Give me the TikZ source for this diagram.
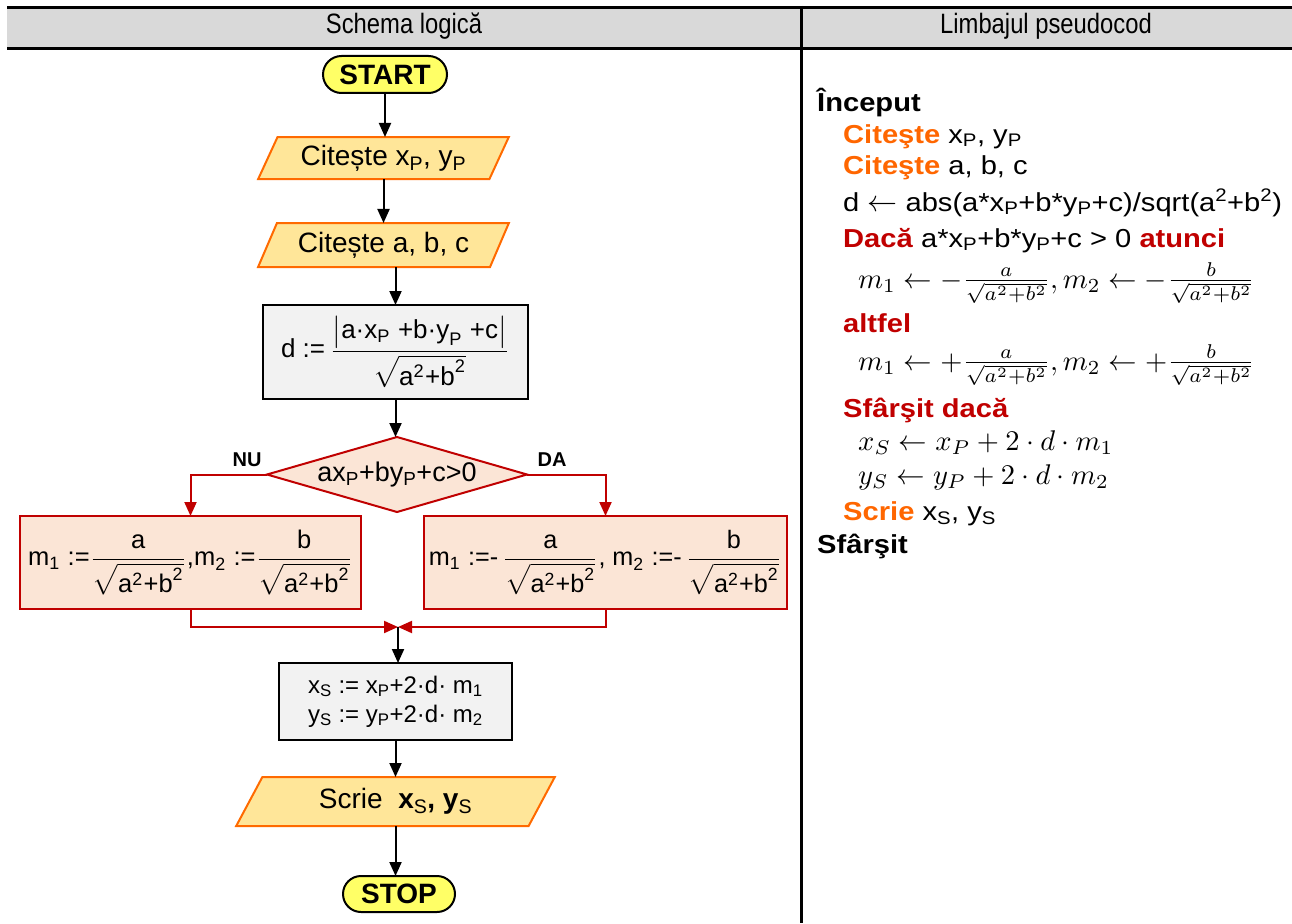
\documentclass[tikz,border=0pt]{standalone}
\usepackage{amsmath}
\usepackage{fontspec}
\setmainfont{Liberation Sans}
\newfontfamily\pcfont{Liberation Sans}[FakeStretch=1.12]
\newfontfamily\hdfont{Liberation Sans}[FakeStretch=0.85]
\usetikzlibrary{arrows.meta,shapes.geometric,shapes.misc}

\definecolor{headgrey}{HTML}{D9D9D9}
\definecolor{termyellow}{HTML}{FFFF66}
\definecolor{iofill}{HTML}{FFE699}
\definecolor{ioline}{HTML}{FF6A00}
\definecolor{procgrey}{HTML}{F2F2F2}
\definecolor{decfill}{HTML}{FBE5D6}
\definecolor{decred}{HTML}{C00000}
\definecolor{kworange}{HTML}{FF6600}

\newcommand\fsz[2]{\fontsize{#1}{#2}\selectfont}
\newcommand\tx[1]{\text{#1}}
\newcommand\kwo[1]{\textcolor{kworange}{\textbf{#1}}}
\newcommand\kwr[1]{\textcolor{decred}{\textbf{#1}}}
\newcommand\sqab{\sqrt{\tx{a}^{\tx{2}}\tx{+b}^{\tx{2}}}}
% formulas are set at 10pt and enlarged as a whole
\newcommand\fml[2]{\scalebox{#1}{\fsz{10}{12}$\displaystyle #2$}}
\newcommand\tml[2]{\scalebox{#1}{\fsz{10}{12}$#2$}}
\newcommand\larr{\scalebox{3}{\fsz{10}{12}$\leftarrow$}}

\tikzset{
  base/.style={inner sep=0pt, outer sep=0pt, line width=2pt},
  term/.style={base, rounded rectangle, draw=black, fill=termyellow,
    font=\fsz{28}{32}\bfseries},
  io/.style={base, trapezium, trapezium left angle=60, trapezium right angle=120,
    trapezium stretches=true, draw=ioline, fill=iofill, font=\fsz{28}{32}},
  proc/.style={base, rectangle, draw=black, fill=procgrey, font=\fsz{25}{30}},
  cond/.style={base, diamond, aspect=3.47, draw=decred, fill=decfill, font=\fsz{27}{32}},
  alt/.style={base, rectangle, draw=decred, fill=decfill},
  arr/.style={line width=2pt, -{Triangle[length=14pt,width=12pt]}},
  rarr/.style={arr, draw=decred, color=decred},
  hdr/.style={inner sep=0pt, anchor=base, font=\hdfont\fsz{28}{32}},
  lbl/.style={inner sep=0pt, anchor=base, font=\fsz{20}{24}\bfseries},
  pc/.style={inner sep=0pt, anchor=base west, font=\pcfont\fsz{26}{31}},
  rule/.style={line width=3pt}
}

\begin{document}
\begin{tikzpicture}[x=1pt,y=-1pt]
\useasboundingbox (0,0) rectangle (1292,923);

% table header and column divider
\fill[headgrey] (7,9) rectangle (1292,47);
\draw[rule] (7,7.5) -- (1292,7.5);
\draw[rule] (7,48.5) -- (1292,48.5);
\draw[rule] (801.5,6) -- (801.5,923);
\node[hdr] (h1) at (404,33.5) {Schema logică};
\node[hdr] (h2) at (1046,33.5) {Limbajul pseudocod};

% flowchart
\node[term, minimum width=124pt, minimum height=37pt] (start) at (385,74.5) {START};
\node[io, minimum width=251pt, minimum height=42pt] (p1) at (383.5,158)
  {Citește x\textsubscript{P}, y\textsubscript{P}};
\node[io, minimum width=251pt, minimum height=44pt] (p2) at (383.5,245)
  {Citește a, b, c};
\node[proc, minimum width=265pt, minimum height=94pt] (dbox) at (395.5,352)
  {\fml{2.6}{\tx{d :=}\,\frac{\big|\tx{a·x}_{\tx{P}}\;\tx{+b·y}_{\tx{P}}\;\tx{+c}\big|}{\sqab}}};
\node[cond, minimum width=260pt, minimum height=75pt] (dia) at (397,474.5)
  {ax\textsubscript{P}+by\textsubscript{P}+c>0};
\node[alt, minimum width=341pt, minimum height=93pt] (mL) at (190.5,562.5)
  {\fml{2.55}{\tx{m}_{\tx{1}}\tx{ :=}\frac{\tx{a}}{\sqab}\tx{,m}_{\tx{2}}\tx{ :=}\frac{\tx{b}}{\sqab}}};
\node[alt, minimum width=363pt, minimum height=93pt] (mR) at (605.5,562.5)
  {\fml{2.52}{\tx{m}_{\tx{1}}\tx{ :=-}\,\frac{\tx{a}}{\sqab}\tx{, m}_{\tx{2}}\tx{ :=-}\,\frac{\tx{b}}{\sqab}}};
\coordinate (merge) at (398,627);
\node[proc, minimum width=233pt, minimum height=77pt, align=center, font=\fsz{24}{29}] (xs) at (395.5,701.5)
  {x\textsubscript{S} := x\textsubscript{P}+2·d· m\textsubscript{1}\\
   y\textsubscript{S} := y\textsubscript{P}+2·d· m\textsubscript{2}};
\node[io, minimum width=319pt, minimum height=49pt] (out) at (395.5,801.5)
  {Scrie~~\textbf{x}\textsubscript{S}\textbf{, y}\textsubscript{S}};
\node[term, minimum width=112pt, minimum height=36pt] (stop) at (399,894) {STOP};

\node[lbl] (nu) at (247,466) {NU};
\node[lbl] (da) at (552,466) {DA};

% connectors
\draw[arr] (start.south) -- (start.south |- p1.north);
\draw[arr] (p1.south) -- (p1.south |- p2.north);
\draw[arr] (dbox.north |- p2.south) -- (dbox.north);
\draw[arr] (dbox.south) -- (dbox.south |- dia.north);
\draw[rarr] (dia.west) -| (mL.north);
\draw[rarr] (dia.east) -| (mR.north);
\draw[rarr] (mL.south) |- (merge);
\draw[rarr] (mR.south) |- (merge);
\draw[arr] (merge) -- (merge |- xs.north);
\draw[arr] (xs.south) -- (xs.south |- out.north);
\draw[arr] (out.south) -- (out.south |- stop.north);

% pseudocode
\node[pc] (l1) at (817,112) {\textbf{Început}};
\node[pc] (l2) at (843,143) {\kwo{Citeşte} x\textsubscript{P}, y\textsubscript{P}};
\node[pc] (l3) at (843,174) {\kwo{Citeşte} a, b, c};
\node[pc] (l4) at (843,211) {d \larr{} abs(a*x\textsubscript{P}+b*y\textsubscript{P}+c)/sqrt(a\textsuperscript{2}+b\textsuperscript{2})};
\node[pc] (l5) at (843,247) {\kwr{Dacă} a*x\textsubscript{P}+b*y\textsubscript{P}+c > 0 \kwr{atunci}};
\node[pc] (l6) at (858,288) {\tml{2.85}{m_1\leftarrow -\frac{a}{\sqrt{a^2+b^2}}, m_2\leftarrow -\frac{b}{\sqrt{a^2+b^2}}}};
\node[pc] (l7) at (843,332) {\kwr{altfel}};
\node[pc] (l8) at (858,370) {\tml{2.85}{m_1\leftarrow +\frac{a}{\sqrt{a^2+b^2}}, m_2\leftarrow +\frac{b}{\sqrt{a^2+b^2}}}};
\node[pc] (l9) at (843,417) {\kwr{Sfârşit dacă}};
\node[pc] (l10) at (858,450) {\tml{2.85}{x_S\leftarrow x_P+2\cdot d\cdot m_1}};
\node[pc] (l11) at (858,484) {\tml{2.85}{y_S\leftarrow y_P+2\cdot d\cdot m_2}};
\node[pc] (l12) at (843,520) {\kwo{Scrie} x\textsubscript{S}, y\textsubscript{S}};
\node[pc] (l13) at (817,553) {\textbf{Sfârşit}};
\end{tikzpicture}
\end{document}
